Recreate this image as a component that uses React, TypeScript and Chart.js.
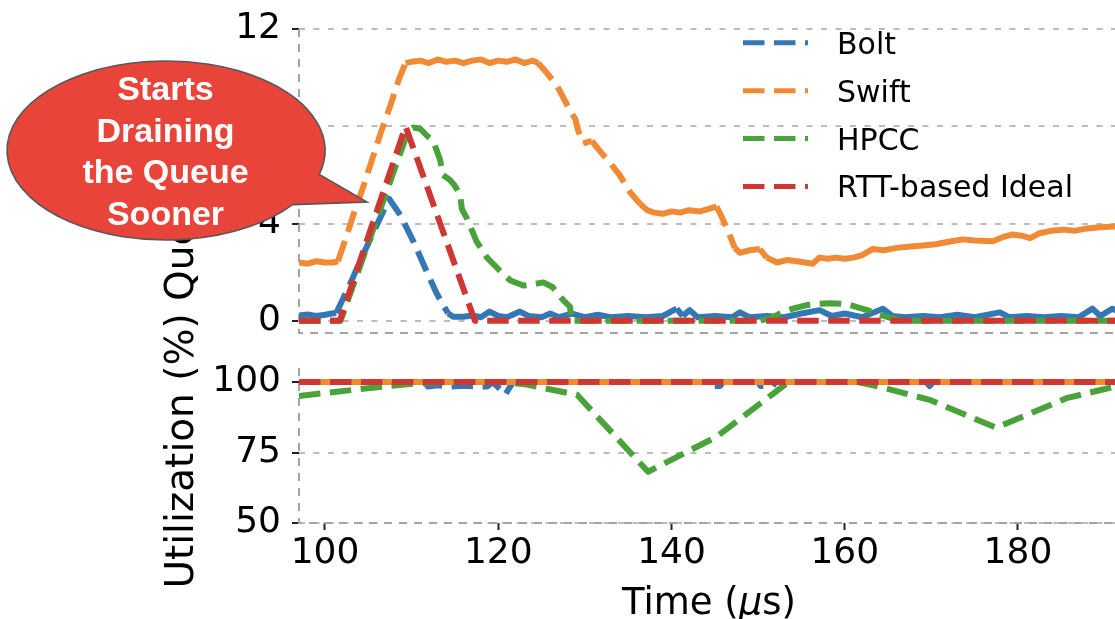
import React, { useEffect, useRef } from 'react';
import { Chart, registerables } from 'chart.js';

Chart.register(...registerables);

// ---------------- data ----------------
const seriesNames = ['Bolt', 'Swift', 'HPCC', 'RTT-based Ideal'];
const seriesColors = ['#3477b5', '#f08a34', '#4aa23a', '#cf3732'];

const xTicks = [100, 120, 140, 160, 180];
const queueTicks = [0, 4, 8, 12];
const utilTicks = [50, 75, 100];
const xRange = [97, 191.2];
const queueRange = [-0.5, 12];
const utilRange = [50, 105];

// Queue (top panel): [time µs, value]
const boltQueue = [
  [97, 0.22], [98, 0.26], [99, 0.2], [100, 0.25], [100.8, 0.3], [101.3, 0.32], [102.9, 1.52], [104.4, 2.73],
  [106, 3.95], [107.4, 5.02], [108.7, 4.35], [110.2, 3.27], [111.7, 2.06], [112.9, 1.12], [114.2, 0.31],
  [114.8, 0.17], [116, 0.17], [117, 0.22], [118, 0.15], [119, 0.38], [120, 0.2], [121, 0.15], [122.5, 0.38],
  [123.5, 0.2], [125, 0.15], [126, 0.3], [127, 0.15], [128.5, 0.3], [130, 0.15], [131.5, 0.25], [133, 0.15],
  [135, 0.2], [137, 0.15], [139, 0.2], [140.6, 0.5], [141.3, 0.2], [142.1, 0.44], [143, 0.15], [145, 0.2],
  [147, 0.15], [147.9, 0.35], [149, 0.15], [151, 0.2], [153, 0.15], [155, 0.3], [157.1, 0.44], [158.5, 0.2],
  [160, 0.3], [162, 0.15], [164.4, 0.5], [165.5, 0.2], [167, 0.15], [169, 0.2], [171, 0.15], [173, 0.25],
  [175, 0.15], [177.9, 0.35], [179, 0.15], [181, 0.2], [183, 0.15], [185, 0.2], [187, 0.15], [188.6, 0.5],
  [189.5, 0.2], [190.9, 0.5], [192, 0.3],
];

const swiftQueue = [
  [97, 2.4], [98, 2.35], [99, 2.45], [100, 2.4], [101, 2.4], [101.5, 2.45], [102.5, 3.5], [103.5, 4.6],
  [104.5, 5.6], [105.5, 6.7], [106.5, 7.8], [107.5, 8.8], [108.5, 9.9], [109.3, 10.6], [110, 10.65],
  [111, 10.7], [112, 10.6], [113, 10.75], [114, 10.65], [115, 10.7], [116, 10.6], [117, 10.7], [118, 10.75],
  [119, 10.6], [120, 10.7], [121, 10.65], [122, 10.75], [123, 10.6], [124, 10.7], [124.6, 10.6],
  [125.6, 10.2], [126.8, 9.66], [127.7, 9.05], [128.3, 8.65], [128.9, 8.3], [129.2, 7.85], [129.8, 7.3],
  [130.8, 7.4], [131.7, 7.0], [132.9, 6.5], [134, 6.0], [135.2, 5.3], [136.4, 4.8], [137.2, 4.55],
  [138, 4.45], [139, 4.4], [140, 4.5], [141, 4.45], [142, 4.55], [143.3, 4.5], [144.3, 4.6], [145.2, 4.7],
  [145.9, 4.2], [146.7, 3.55], [147.3, 3.0], [147.9, 2.8], [149, 2.9], [150.2, 2.95], [151, 2.6],
  [152.2, 2.4], [153.3, 2.5], [154.5, 2.45], [155.4, 2.4], [156.3, 2.35], [157.1, 2.6], [158, 2.55],
  [159, 2.6], [160, 2.55], [161, 2.6], [162, 2.7], [163.2, 2.95], [164.5, 2.9], [166, 3.0], [167.9, 3.07],
  [169, 3.1], [170.5, 3.15], [172, 3.25], [173.6, 3.35], [175, 3.3], [177.1, 3.27], [178.3, 3.45],
  [179.4, 3.55], [180.4, 3.5], [181.4, 3.4], [182.5, 3.6], [183.8, 3.7], [185.2, 3.75], [186.5, 3.7],
  [188, 3.8], [189.5, 3.85], [191, 3.88], [192, 3.9],
];

const hpccQueue = [
  [97, 0], [101.8, 0], [109.6, 7.8], [110.2, 7.95], [111, 7.9], [111.8, 7.6], [112.5, 7.4], [112.9, 7.0],
  [113.3, 6.6], [113.6, 6.0], [114.4, 5.8], [114.9, 5.6], [115.6, 5.2], [115.8, 4.6], [116.4, 4.2],
  [117.5, 3.27], [118.7, 2.6], [120.2, 2.06], [121.4, 1.66], [122.9, 1.45], [124, 1.5], [125.2, 1.58],
  [126.3, 1.38], [127.5, 0.85], [128.3, 0.57], [128.4, 0], [150, 0], [151.5, 0.1], [152.5, 0.3], [154, 0.5],
  [155.6, 0.65], [157, 0.7], [158.3, 0.72], [159.5, 0.7], [160.6, 0.65], [161.5, 0.55], [162.5, 0.45],
  [164, 0.25], [165.5, 0.1], [166.5, 0], [192, 0],
];

const idealQueue = [[97, 0], [101.7, 0], [109.3, 8.0], [117.3, 0], [192, 0]];

// Utilization (bottom panel)
const boltUtil = [
  [97, 100], [111.5, 100], [111.9, 98.4], [113, 98.9], [114.5, 98.4], [116, 98.7], [117.5, 98.4],
  [118.7, 98.4], [119.4, 100], [120.2, 97.5], [120.8, 95.5], [121.3, 98], [121.7, 100], [144, 100],
  [144.4, 98.6], [145.6, 98.6], [146, 100], [150, 100], [150.3, 98.6], [151.7, 98.6], [152, 100],
  [169.4, 100], [169.8, 98.6], [170.2, 100], [192, 100],
];
const swiftUtil = [[97, 100], [192, 100]];
const hpccUtil = [
  [97, 95.1], [106.7, 98.4], [111.3, 99.7], [114, 100], [121, 100], [123.3, 99.1], [129.1, 95.5],
  [137.3, 68.2], [145.2, 80.6], [153.5, 100], [161.5, 100], [164, 98.4], [169.8, 93.7], [177.5, 83.8],
  [185.6, 94.3], [191.2, 98.4], [192, 98.6],
];
const idealUtil = [[97, 100], [192, 100]];

const yTitle = 'Utilization (%) Queue (KB)';
const xTitleParts = [['Time (', 'normal'], ['μ', 'italic'], ['s)', 'normal']];
const calloutLines = ['Starts', 'Draining', 'the Queue', 'Sooner'];

// ---------------- style / layout ----------------
const W = 1115;
const H = 619;
const FONT = '"DejaVu Sans", sans-serif';
const PLOT_LEFT = 299;
const TOP_AREA = { top: 24, bottom: 333 };
const BOT_AREA = { top: 368, bottom: 523 };
const DASH = [21.5, 9.5];
const LINE_W = 6;
const GRID_COLOR = '#bcbcbc';
const GRID_DASH = [6, 8.5];
const SPINE_COLOR = '#a4a4a4';
const TICK_COLOR = '#222';

const toPts = (arr: number[][]) => arr.map(([x, y]) => ({ x, y }));

const steep = (c: any) => Math.abs(c.p1.y - c.p0.y) > 1.0 * Math.abs(c.p1.x - c.p0.x);

function makeDataset(i: number, pts: number[][], mode: 'steep' | 'dash', dashOffset = 0) {
  const ds: any = {
    label: seriesNames[i],
    data: toPts(pts),
    borderColor: seriesColors[i],
    backgroundColor: seriesColors[i],
    borderWidth: LINE_W,
    pointRadius: 0,
    pointHoverRadius: 0,
    fill: false,
    tension: 0,
    order: 4 - i,
    borderCapStyle: 'butt',
    borderJoinStyle: 'round',
    borderDash: mode === 'dash' ? DASH : [],
    borderDashOffset: dashOffset,
  };
  if (mode === 'steep') {
    ds.segment = { borderDash: (c: any) => (steep(c) ? DASH : []) };
  }
  return ds;
}

const spinePlugin = {
  id: 'dashedSpines',
  beforeDatasetsDraw(chart: any) {
    const { ctx, chartArea: a } = chart;
    ctx.save();
    ctx.strokeStyle = SPINE_COLOR;
    ctx.lineWidth = 2;
    ctx.setLineDash([8, 7]);
    ctx.beginPath();
    ctx.moveTo(a.left, a.top);
    ctx.lineTo(a.left, a.bottom);
    ctx.lineTo(a.right, a.bottom);
    ctx.stroke();
    ctx.restore();
  },
};

const legendPlugin = {
  id: 'dashLegend',
  afterDraw(chart: any) {
    const { ctx } = chart;
    ctx.save();
    seriesNames.forEach((name, i) => {
      const y = 42.8 + i * 47.9;
      ctx.strokeStyle = seriesColors[i];
      ctx.lineWidth = 5;
      ctx.lineCap = 'butt';
      ctx.setLineDash(DASH);
      ctx.beginPath();
      ctx.moveTo(743, y);
      ctx.lineTo(808, y);
      ctx.stroke();
      ctx.setLineDash([]);
      ctx.fillStyle = '#000';
      ctx.font = `30px ${FONT}`;
      ctx.textAlign = 'left';
      ctx.textBaseline = 'alphabetic';
      ctx.fillText(name, 837, y + 10.9);
    });
    ctx.restore();
  },
};

const overlayPlugin = {
  id: 'labelsAndCallout',
  afterDraw(chart: any) {
    const { ctx, chartArea: a } = chart;
    ctx.save();
    // x title
    ctx.fillStyle = '#000';
    ctx.textBaseline = 'alphabetic';
    ctx.textAlign = 'left';
    const fonts = xTitleParts.map(([, st]) => `${st === 'italic' ? 'italic ' : ''}37px ${FONT}`);
    const widths = xTitleParts.map(([t], k) => {
      ctx.font = fonts[k];
      return ctx.measureText(t).width;
    });
    const total = widths.reduce((s, w) => s + w, 0);
    let x = (a.left + a.right) / 2 + 2 - total / 2;
    xTitleParts.forEach(([t], k) => {
      ctx.font = fonts[k];
      ctx.fillText(t, x, 613.7);
      x += widths[k];
    });
    // y title
    ctx.save();
    ctx.translate(193, 588.6);
    ctx.rotate(-Math.PI / 2);
    ctx.font = `39px ${FONT}`;
    ctx.fillText(yTitle, 0, 0);
    ctx.restore();

    // callout bubble
    const cx = 166, cy = 150.5, rx = 159, ry = 89.5;
    const tA = 0.27, tB = 0.65;
    ctx.beginPath();
    ctx.moveTo(cx + rx * Math.cos(tA), cy + ry * Math.sin(tA));
    ctx.lineTo(367, 202);
    ctx.lineTo(cx + rx * Math.cos(tB), cy + ry * Math.sin(tB));
    ctx.ellipse(cx, cy, rx, ry, 0, tB, tA + Math.PI * 2, false);
    ctx.closePath();
    ctx.fillStyle = '#e8443a';
    ctx.fill();
    ctx.lineWidth = 1.6;
    ctx.strokeStyle = '#585858';
    ctx.setLineDash([]);
    ctx.stroke();
    ctx.fillStyle = '#ffffff';
    ctx.font = `bold 34px "Liberation Sans", Arial, sans-serif`;
    ctx.textAlign = 'center';
    calloutLines.forEach((t, k) => ctx.fillText(t, 165.5, 100.3 + k * 41.5));
    ctx.restore();
  },
};

function yScale(range: number[], ticks: number[]) {
  return {
    type: 'linear',
    min: range[0],
    max: range[1],
    afterBuildTicks: (s: any) => {
      s.ticks = ticks.map((v) => ({ value: v }));
    },
    afterFit: (s: any) => {
      s.width = PLOT_LEFT;
    },
    grid: {
      color: GRID_COLOR,
      lineWidth: 2,
      drawTicks: true,
      tickLength: 7,
      tickColor: TICK_COLOR,
      tickWidth: 2,
      tickBorderDash: [],
    },
    border: { display: false, dash: GRID_DASH },
    ticks: {
      font: { size: 36, family: FONT, lineHeight: 1 },
      color: '#000',
      padding: 11,
    },
  };
}

export default function App() {
  const topRef = useRef<HTMLCanvasElement>(null);
  const botRef = useRef<HTMLCanvasElement>(null);

  useEffect(() => {
    Chart.defaults.font.family = FONT;
    const common = {
      responsive: false,
      animation: false,
      devicePixelRatio: 1,
      events: [],
    };
    const top = new Chart(topRef.current as HTMLCanvasElement, {
      type: 'line',
      data: {
        datasets: [
          makeDataset(0, boltQueue, 'steep'),
          makeDataset(1, swiftQueue, 'steep'),
          makeDataset(2, hpccQueue, 'dash'),
          makeDataset(3, idealQueue, 'dash'),
        ],
      },
      options: {
        ...common,
        layout: { padding: { left: 0, right: 0, top: TOP_AREA.top, bottom: H - TOP_AREA.bottom } },
        plugins: { legend: { display: false }, tooltip: { enabled: false }, title: { display: false } },
        scales: {
          x: { type: 'linear', min: xRange[0], max: xRange[1], display: false },
          y: yScale(queueRange, queueTicks),
        },
      } as any,
      plugins: [spinePlugin, legendPlugin],
    } as any);

    const bot = new Chart(botRef.current as HTMLCanvasElement, {
      type: 'line',
      data: {
        datasets: [
          makeDataset(0, boltUtil, 'dash'),
          makeDataset(1, swiftUtil, 'dash', 15),
          makeDataset(2, hpccUtil, 'dash'),
          makeDataset(3, idealUtil, 'dash'),
        ],
      },
      options: {
        ...common,
        layout: { padding: { left: 0, right: 0, top: BOT_AREA.top, bottom: 0 } },
        plugins: { legend: { display: false }, tooltip: { enabled: false }, title: { display: false } },
        scales: {
          x: {
            type: 'linear',
            min: xRange[0],
            max: xRange[1],
            afterBuildTicks: (s: any) => {
              s.ticks = xTicks.map((v) => ({ value: v }));
            },
            afterFit: (s: any) => {
              s.height = H - BOT_AREA.bottom;
            },
            grid: {
              drawOnChartArea: false,
              drawTicks: true,
              tickLength: 7,
              tickColor: TICK_COLOR,
              tickWidth: 2,
              tickBorderDash: [],
            },
            border: { display: false },
            ticks: {
              font: { size: 36, family: FONT, lineHeight: 1 },
              color: '#000',
              padding: 6,
              autoSkip: false,
              maxRotation: 0,
            },
          },
          y: yScale(utilRange, utilTicks),
        },
      } as any,
      plugins: [spinePlugin, overlayPlugin],
    } as any);

    return () => {
      top.destroy();
      bot.destroy();
    };
  }, []);

  const canvasStyle: React.CSSProperties = { position: 'absolute', left: 0, top: 0, display: 'block' };
  return (
    <div style={{ position: 'absolute', left: 0, top: 0, width: W, height: H, background: '#fff', overflow: 'hidden' }}>
      <canvas ref={topRef} width={W} height={H} style={canvasStyle} />
      <canvas ref={botRef} width={W} height={H} style={canvasStyle} />
    </div>
  );
}
